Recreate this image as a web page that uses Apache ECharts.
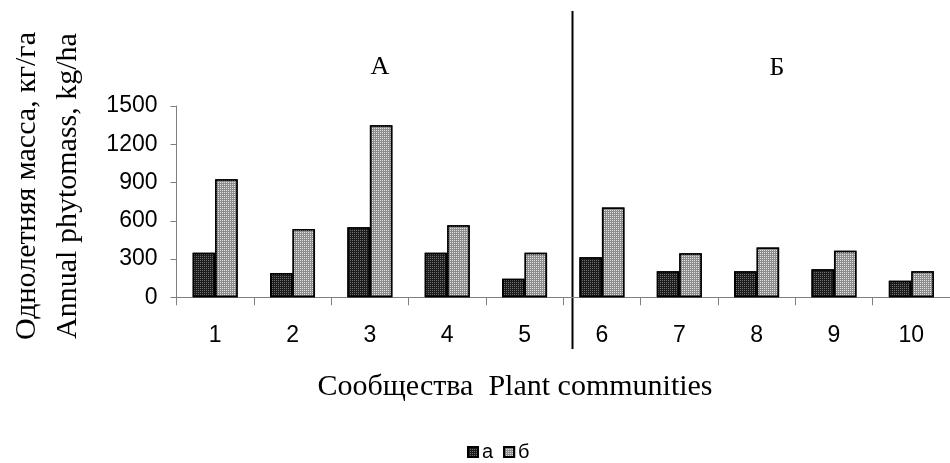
<!DOCTYPE html>
<html>
<head>
<meta charset="utf-8">
<script src="https://cdn.jsdelivr.net/npm/echarts@6/dist/echarts.min.js"></script>
<style>html,body{margin:0;padding:0;background:#fff}#c{width:950px;height:463px}</style>
</head>
<body>
<div id="c"></div>
<script>
const categories = ['1','2','3','4','5','6','7','8','9','10'];
const seriesA = [350, 190, 550, 350, 145, 315, 205, 205, 220, 130];
const seriesB = [925, 535, 1350, 565, 350, 705, 345, 390, 365, 205];
const seriesNames = ['а', 'б'];
const yTicks = [0, 300, 600, 900, 1200, 1500];
const groupLabels = ['А', 'Б'];
const yTitle = ['Однолетняя масса, кг/га', 'Annual phytomass, kg/ha'];
const xTitle = 'Сообщества  Plant communities';

const chart = echarts.init(document.getElementById('c'), null, {renderer: 'canvas'});
const serif = '"Liberation Serif", "Times New Roman", serif';
const sans = '"Liberation Sans", Arial, sans-serif';

const option = {
  animation: false,
  backgroundColor: '#ffffff',
  aria: {enabled: true, decal: {show: true}},
  grid: {left: 176.5, top: 106, width: 783, height: 191.3, containLabel: false},
  legend: {
    data: seriesNames,
    left: 462, top: 437,
    itemWidth: 10, itemHeight: 10, itemGap: 10,
    icon: 'rect',
    textStyle: {fontSize: 20, fontFamily: sans, color: '#000', padding: [0, 0, 0, -1]}
  },
  xAxis: {
    type: 'category',
    data: categories,
    axisLine: {lineStyle: {color: '#808080', width: 1}},
    axisTick: {show: true, length: 8, lineStyle: {color: '#808080'}},
    axisLabel: {fontSize: 23, fontFamily: sans, color: '#000', margin: 27}
  },
  yAxis: {
    type: 'value',
    min: yTicks[0], max: yTicks[yTicks.length - 1], interval: 300,
    splitLine: {show: false},
    axisLine: {show: true, lineStyle: {color: '#808080', width: 1}},
    axisTick: {show: true, length: 6, lineStyle: {color: '#808080'}},
    axisLabel: {fontSize: 23, fontFamily: sans, color: '#000', margin: 19, formatter: v => String(v)}
  },
  series: [
    {
      name: seriesNames[0], type: 'bar', data: seriesA,
      barWidth: 22.5, barGap: '0%',
      itemStyle: {
        color: '#1c1c1c', borderColor: '#000', borderWidth: 1.5,
        decal: {symbol: 'rect', symbolSize: 1, color: 'rgba(150,150,150,0.7)', dashArrayX: [1, 1], dashArrayY: [1, 1], rotation: 0}
      }
    },
    {
      name: seriesNames[1], type: 'bar', data: seriesB,
      barWidth: 22.5, barGap: '0%',
      itemStyle: {
        color: '#8c8c8c', borderColor: '#000', borderWidth: 1.5,
        decal: {symbol: 'rect', symbolSize: 1, color: 'rgba(235,235,235,0.9)', dashArrayX: [1, 1], dashArrayY: [1, 1], rotation: 0}
      }
    }
  ],
  graphic: [
    {type: 'line', shape: {x1: 572.5, y1: 11, x2: 572.5, y2: 349}, style: {stroke: '#000', lineWidth: 2}, silent: true},
    {type: 'text', x: 380, y: 67, style: {text: groupLabels[0], font: '26px ' + serif, fill: '#000', textAlign: 'center', textVerticalAlign: 'middle'}},
    {type: 'text', x: 777, y: 68, style: {text: groupLabels[1], font: '26px ' + serif, fill: '#000', textAlign: 'center', textVerticalAlign: 'middle'}},
    {type: 'text', x: 515, y: 387, style: {text: xTitle, font: '30px ' + serif, fill: '#000', textAlign: 'center', textVerticalAlign: 'middle'}},
    {type: 'text', x: 47.5, y: 186, rotation: Math.PI / 2,
     style: {text: yTitle.join('\n'), font: '30px ' + serif, lineHeight: 41, fill: '#000', textAlign: 'center', textVerticalAlign: 'middle'}}
  ]
};
chart.setOption(option);
</script>
</body>
</html>
